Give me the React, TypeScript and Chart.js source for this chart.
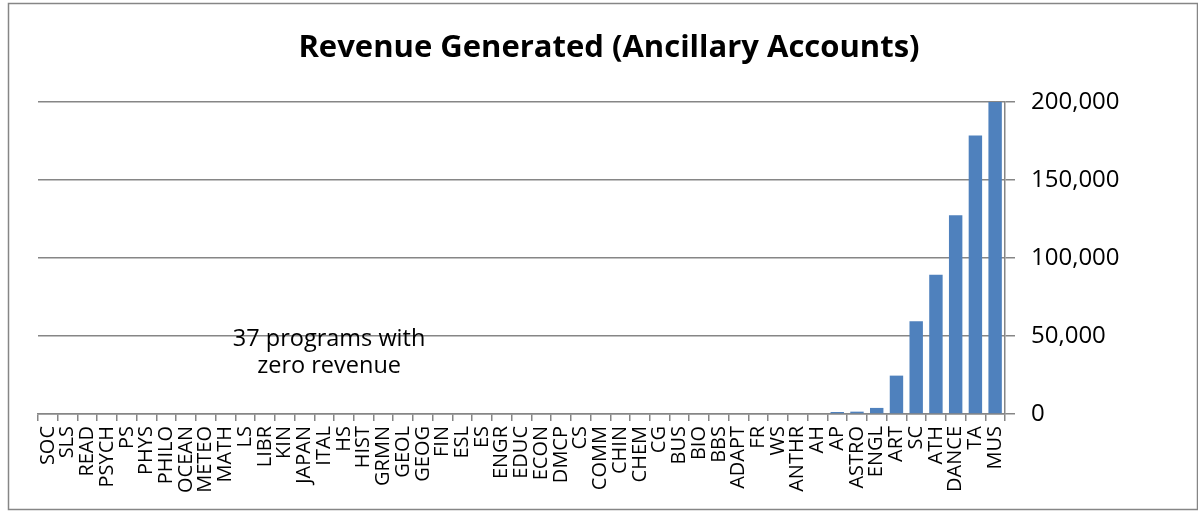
import React, { useEffect, useRef } from "react";
import { Chart, registerables } from "chart.js";

Chart.register(...registerables);

const TITLE = "Revenue Generated (Ancillary Accounts)";
const NOTE_LINES = ["37 programs with", "zero revenue"];

const categories = [
  "SOC", "SLS", "READ", "PSYCH", "PS", "PHYS", "PHILO", "OCEAN", "METEO", "MATH",
  "LS", "LIBR", "KIN", "JAPAN", "ITAL", "HS", "HIST", "GRMN", "GEOL", "GEOG",
  "FIN", "ESL", "ES", "ENGR", "EDUC", "ECON", "DMCP", "CS", "COMM", "CHIN",
  "CHEM", "CG", "BUS", "BIO", "BBS", "ADAPT", "FR", "WS", "ANTHR", "AH",
  "AP", "ASTRO", "ENGL", "ART", "SC", "ATH", "DANCE", "TA", "MUS",
];

const revenue = [
  0, 0, 0, 0, 0, 0, 0, 0, 0, 0,
  0, 0, 0, 0, 0, 0, 0, 0, 0, 0,
  0, 0, 0, 0, 0, 0, 0, 0, 0, 0,
  0, 0, 0, 0, 0, 0, 0, 0, 0, 0,
  1300, 1500, 3900, 24600, 59400, 89300, 127400, 178600, 200000,
];

const yTicks = [0, 50000, 100000, 150000, 200000];
const noteValues = [47700, 30300];

const FONT = "'Open Sans', 'DejaVu Sans', sans-serif";
const GRID = "#868686";

export default function App() {
  const ref = useRef<HTMLCanvasElement | null>(null);

  useEffect(() => {
    if (!ref.current) return;

    const framePlugin = {
      id: "frame",
      beforeDraw(chart: any) {
        const ctx = chart.ctx;
        ctx.save();
        ctx.fillStyle = "#ffffff";
        ctx.fillRect(0, 0, chart.width, chart.height);
        ctx.strokeStyle = GRID;
        ctx.lineWidth = 1.5;
        ctx.strokeRect(8.5, 3.5, chart.width - 1 - 8, chart.height - 4 - 1);
        ctx.restore();
      },
      afterDraw(chart: any) {
        const ctx = chart.ctx;
        ctx.save();
        ctx.fillStyle = "#000000";
        ctx.textAlign = "center";
        ctx.textBaseline = "middle";
        ctx.font = `bold 31px ${FONT}`;
        ctx.fillText(TITLE, 609, 48);

        const xs = chart.scales.x;
        const ys = chart.scales.y;
        const x0 = xs.getPixelForValue(14);
        const x1 = xs.getPixelForValue(15);
        const cx = x0 + 0.25 * (x1 - x0);
        ctx.font = `23.5px ${FONT}`;
        NOTE_LINES.forEach((t, i) => {
          ctx.fillText(t, cx, ys.getPixelForValue(noteValues[i]));
        });
        ctx.restore();
      },
    };

    const chart = new Chart(ref.current, {
      type: "bar",
      data: {
        labels: categories,
        datasets: [
          {
            data: revenue,
            backgroundColor: "#4F81BD",
            borderWidth: 0,
            barPercentage: 0.68,
            categoryPercentage: 1,
          },
        ],
      },
      options: {
        animation: false,
        responsive: false,
        devicePixelRatio: 1,
        layout: { padding: { left: 38, top: 102, right: 0, bottom: 0 } },
        plugins: {
          legend: { display: false },
          title: { display: false },
          tooltip: { enabled: false },
        },
        scales: {
          x: {
            grid: {
              display: true,
              drawOnChartArea: false,
              drawTicks: true,
              tickLength: 7,
              color: GRID,
              lineWidth: 1.5,
              offset: true,
            },
            border: { display: true, color: GRID, width: 1.5 },
            ticks: {
              autoSkip: false,
              maxRotation: 90,
              minRotation: 90,
              padding: 5,
              color: "#000000",
              font: { family: FONT, size: 20 },
            },
            afterFit(scale: any) {
              scale.height = 97;
            },
          },
          y: {
            position: "right",
            min: 0,
            max: 200000,
            afterBuildTicks(scale: any) {
              scale.ticks = yTicks.map((v) => ({ value: v }));
            },
            grid: {
              color: GRID,
              lineWidth: 1.5,
              drawTicks: true,
              tickLength: 10,
            },
            border: { display: true, color: GRID, width: 1.5 },
            ticks: {
              padding: 16,
              color: "#000000",
              font: { family: FONT, size: 24 },
              callback: (v: any) => Number(v).toLocaleString("en-US"),
            },
            afterFit(scale: any) {
              scale.width = 193;
            },
          },
        },
      },
      plugins: [framePlugin],
    } as any);

    return () => chart.destroy();
  }, []);

  return (
    <div style={{ position: "absolute", left: 0, top: 0, width: 1198, height: 511 }}>
      <canvas ref={ref} width={1198} height={511} style={{ display: "block" }} />
    </div>
  );
}
